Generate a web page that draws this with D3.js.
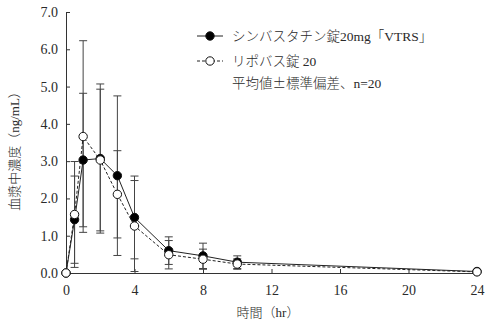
<!DOCTYPE html>
<html>
<head>
<meta charset="utf-8">
<script src="https://cdn.jsdelivr.net/npm/d3@7"></script>
<style>
  html, body { margin: 0; padding: 0; background: #fff; }
  svg text { font-family: "Liberation Serif", "Noto Sans CJK JP", serif; fill: #2a2a2a; font-weight: 300; }
  .cjk { font-family: "Noto Sans CJK JP", sans-serif; }
</style>
</head>
<body>
<svg id="chart" width="490" height="324"></svg>
<script>
// Sampling times (hr)
const times = [0, 0.5, 1, 2, 3, 4, 6, 8, 10, 24];
// シンバスタチン錠20mg「VTRS」: mean and SD (ng/mL)
const vtrsMean = [0, 1.43, 3.03, 3.07, 2.61, 1.49, 0.60, 0.46, 0.29, 0.04];
const vtrsSD   = [0, 1.17, 1.79, 2.00, 2.14, 1.11, 0.37, 0.34, 0.17, 0.03];
// リポバス錠 20: mean and SD (ng/mL)
const lipoMean = [0, 1.57, 3.66, 3.03, 2.11, 1.26, 0.49, 0.37, 0.24, 0.03];
const lipoSD   = [0, 1.42, 2.57, 1.90, 1.17, 1.22, 0.38, 0.27, 0.14, 0.03];
// Axis ticks
const xTicks = [0, 4, 8, 12, 16, 20, 24];
const yTicks = [0, 1, 2, 3, 4, 5, 6, 7];
const seriesNames = ["シンバスタチン錠20mg「VTRS」", "リポバス錠 20"];

const svg = d3.select("#chart");
const plotLeft = 66, plotRight = 477, plotTop = 12, plotBottom = 273;

const x = d3.scaleLinear().domain([0, 24]).range([plotLeft, plotRight]);
const y = d3.scaleLinear().domain([0, 7]).range([plotBottom, plotTop]);

const axisColor = "#333";

// Axes with inward ticks
const gx = svg.append("g").attr("transform", `translate(0,${plotBottom})`)
  .call(d3.axisBottom(x).tickValues(xTicks).tickFormat(d3.format("d"))
    .tickSizeInner(-4).tickSizeOuter(0).tickPadding(12));
const gy = svg.append("g").attr("transform", `translate(${plotLeft},0)`)
  .call(d3.axisLeft(y).tickValues(yTicks).tickFormat(d3.format(".1f"))
    .tickSizeInner(-4).tickSizeOuter(0).tickPadding(8));
[gx, gy].forEach(g => {
  g.select(".domain").attr("stroke", axisColor);
  g.selectAll(".tick line").attr("stroke", axisColor);
  g.selectAll(".tick text").attr("font-size", 14).attr("fill", "#2a2a2a")
    .attr("font-family", '"Liberation Serif", serif');
});

// Axis titles
svg.append("text").attr("x", 268).attr("y", 317).attr("text-anchor", "middle")
  .attr("font-size", 13).text("時間（hr）");
svg.append("text").attr("transform", "translate(19,148) rotate(-90)")
  .attr("text-anchor", "middle").attr("font-size", 13).text("血漿中濃度（ng/mL）");

const series = [
  { mean: vtrsMean, sd: vtrsSD, fill: "#000", dash: null },
  { mean: lipoMean, sd: lipoSD, fill: "#fff", dash: "3,2" }
];

// Error bars
const cap = 4;
series.forEach(s => {
  const g = svg.append("g").attr("stroke", "#444").attr("stroke-width", 1);
  times.forEach((t, i) => {
    if (s.sd[i] <= 0) return;
    const hi = y(s.mean[i] + s.sd[i]);
    const lo = y(Math.max(0, s.mean[i] - s.sd[i]));
    const cx = x(t);
    g.append("line").attr("x1", cx).attr("x2", cx).attr("y1", hi).attr("y2", lo);
    g.append("line").attr("x1", cx - cap).attr("x2", cx + cap).attr("y1", hi).attr("y2", hi);
    g.append("line").attr("x1", cx - cap).attr("x2", cx + cap).attr("y1", lo).attr("y2", lo);
  });
});

// Lines and markers
const line = d3.line().x(d => x(d[0])).y(d => y(d[1]));
series.forEach(s => {
  const pts = times.map((t, i) => [t, s.mean[i]]);
  svg.append("path").datum(pts).attr("d", line).attr("fill", "none")
    .attr("stroke", "#222").attr("stroke-width", 1)
    .attr("stroke-dasharray", s.dash);
});
series.forEach(s => {
  svg.append("g").selectAll("circle").data(times).join("circle")
    .attr("cx", t => x(t)).attr("cy", (t, i) => y(s.mean[i])).attr("r", 4.2)
    .attr("fill", s.fill).attr("stroke", "#111").attr("stroke-width", 1);
});

// Legend
const lg = svg.append("g");
const rows = [36, 61];
series.forEach((s, i) => {
  lg.append("line").attr("x1", 197).attr("x2", 223).attr("y1", rows[i]).attr("y2", rows[i])
    .attr("stroke", "#222").attr("stroke-width", 1).attr("stroke-dasharray", s.dash);
  lg.append("circle").attr("cx", 210).attr("cy", rows[i]).attr("r", 4.2)
    .attr("fill", s.fill).attr("stroke", "#111");
  lg.append("text").attr("x", 232).attr("y", rows[i] + 5).attr("font-size", 13.5)
    .text(seriesNames[i]);
});
const note = lg.append("text").attr("x", 232).attr("y", 88).attr("font-size", 13.5);
note.append("tspan").text("平均値");
note.append("tspan").attr("class", "cjk").text("±");
note.append("tspan").text("標準偏差、n=20");
</script>
</body>
</html>
